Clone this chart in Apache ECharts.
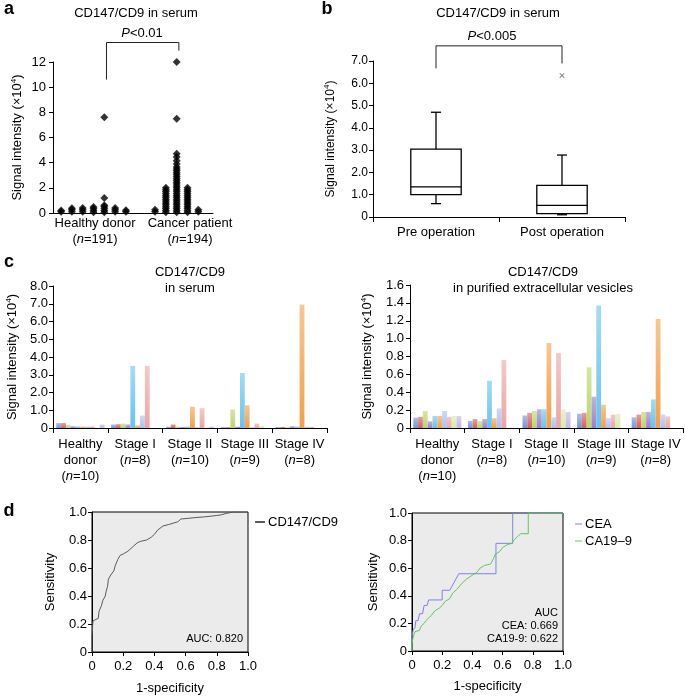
<!DOCTYPE html>
<html><head><meta charset="utf-8">
<script src="https://cdn.jsdelivr.net/npm/echarts@6/dist/echarts.min.js"></script>
<style>html,body{margin:0;padding:0;background:#fff}#c{width:685px;height:696px}</style>
</head><body><div id="c"></div>
<script>
// ---------------- DATA ----------------
// Panel a: dot plot columns (values x10^4)
const aGroupNames = ['Healthy donor', 'Cancer patient'];
const aGroupN = ['191', '194'];
const healthyColumns = [
  [0.1, 0.2],
  [0.1, 0.25, 0.38],
  [0.1, 0.25, 0.4],
  [0.05, 0.2, 0.35, 0.48],
  [0.05, 0.2, 0.35, 0.5, 0.62, 1.2, 7.6],
  [0.1, 0.25, 0.4],
  [0.1, 0.22]
];
const cancerColumns = [
  [0.1, 0.25],
  [0.05, 0.2, 0.35, 0.5, 0.65, 0.8, 0.95, 1.1, 1.25, 1.4, 1.55, 1.7, 1.85, 2.0],
  [0.05, 0.2, 0.35, 0.5, 0.65, 0.8, 0.95, 1.1, 1.25, 1.4, 1.55, 1.7, 1.85, 2.0, 2.15, 2.3, 2.45, 2.6, 2.75, 2.9, 3.05, 3.2, 3.35, 3.5, 3.65, 3.9, 4.15, 4.45, 4.7, 7.5, 12.0],
  [0.05, 0.2, 0.35, 0.5, 0.65, 0.8, 0.95, 1.1, 1.25, 1.4, 1.55, 1.7, 1.85, 2.0],
  [0.1, 0.25]
];
const aBracket = [10.6, 13.55, 12.9];   // left leg bottom, top, right leg bottom

// Panel b: box plot [low whisker, Q1, median, Q3, high whisker]
const bCategories = ['Pre operation', 'Post operation'];
const bStats = [
  [0.6, 1.0, 1.35, 3.05, 4.7],
  [0.1, 0.15, 0.52, 1.42, 2.78]
];
const bOutliers = [[1, 6.35]];
const bBracket = [6.67, 7.68, 6.89];

// Panel c: per-patient bars (slot order = sample number)
const cCategories = ['Healthy\ndonor', 'Stage I', 'Stage II', 'Stage III', 'Stage IV'];
const cN = ['10', '8', '10', '9', '8'];
const serumHealthy  = [0.28, 0.28, 0.17, 0.10, 0.09, 0.08, 0.09, 0.09, 0.02, 0.20];
const serumStageI   = [0.20, 0.22, 0.25, 0.20, 3.50, 0.15, 0.70, 3.50];
const serumStageII  = [0.07, 0.20, 0.08, 0.06, 0.08, 1.20, 0.05, 1.12, 0.04, 0.08];
const serumStageIII = [0.05, 0.05, 1.05, 0.08, 3.10, 1.28, 0.05, 0.25, 0.12];
const serumStageIV  = [0.05, 0.06, 0.05, 0.10, 0.08, 6.95, 0.08, 0.07];
const evHealthy  = [0.115, 0.125, 0.19, 0.075, 0.135, 0.135, 0.19, 0.125, 0.135, 0.135];
const evStageI   = [0.08, 0.10, 0.08, 0.10, 0.53, 0.11, 0.22, 0.76];
const evStageII  = [0.14, 0.17, 0.19, 0.21, 0.21, 0.95, 0.12, 0.84, 0.21, 0.18];
const evStageIII = [0.16, 0.17, 0.68, 0.35, 1.37, 0.26, 0.11, 0.15, 0.16];
const evStageIV  = [0.12, 0.15, 0.18, 0.18, 0.32, 1.22, 0.15, 0.13];

// Panel d: ROC curves [1-specificity, sensitivity]
const rocCD147 = [[0,0],[0,0.11],[0.006,0.22],[0.02,0.23],[0.04,0.24],[0.045,0.29],[0.06,0.33],[0.07,0.37],[0.085,0.40],[0.09,0.43],[0.1,0.47],[0.105,0.52],[0.12,0.55],[0.14,0.58],[0.15,0.62],[0.165,0.66],[0.18,0.69],[0.2,0.70],[0.23,0.72],[0.26,0.75],[0.29,0.78],[0.31,0.79],[0.35,0.80],[0.38,0.82],[0.4,0.84],[0.42,0.87],[0.455,0.90],[0.49,0.91],[0.52,0.92],[0.55,0.93],[0.57,0.95],[0.62,0.955],[0.66,0.96],[0.72,0.965],[0.8,0.975],[0.83,0.98],[0.86,0.99],[0.91,1.0],[1,1]];
const rocCEA = [[0,0],[0,0.1],[0.007,0.15],[0.02,0.17],[0.025,0.22],[0.04,0.22],[0.05,0.27],[0.07,0.27],[0.08,0.33],[0.1,0.33],[0.11,0.37],[0.2,0.37],[0.2,0.44],[0.25,0.44],[0.31,0.56],[0.556,0.56],[0.556,0.78],[0.667,0.78],[0.667,1.0],[1,1]];
const rocCA199 = [[0,0],[0,0.05],[0.007,0.1],[0.02,0.14],[0.05,0.15],[0.06,0.18],[0.08,0.2],[0.1,0.23],[0.13,0.26],[0.15,0.29],[0.18,0.31],[0.2,0.33],[0.22,0.36],[0.25,0.38],[0.27,0.42],[0.3,0.45],[0.33,0.49],[0.36,0.52],[0.4,0.55],[0.43,0.57],[0.45,0.6],[0.48,0.62],[0.52,0.63],[0.54,0.67],[0.55,0.7],[0.58,0.72],[0.6,0.75],[0.63,0.77],[0.66,0.78],[0.68,0.81],[0.7,0.83],[0.72,0.85],[0.77,0.85],[0.77,1.0],[1,1]];
const rocNames = ['CD147/CD9', 'CEA', 'CA19–9'];

// ---------------- STYLE ----------------
const FONT = '"Liberation Sans", Arial, sans-serif';
const barColors = ['#7a92d6', '#d0625e', '#bcd46e', '#9683c6', '#6cc2ea', '#f0a04e', '#adc0f2', '#eaa6a6', '#d9ebaa', '#c3b5e6'];
const rocColors = ['#5a5a5a', '#7e86d8', '#62c462'];
function lighten(hex, t) {
  const n = parseInt(hex.slice(1), 16);
  const r = (n >> 16) & 255, g = (n >> 8) & 255, b = n & 255;
  const m = c => Math.round(c + (255 - c) * t);
  return 'rgb(' + m(r) + ',' + m(g) + ',' + m(b) + ')';
}
const chart = echarts.init(document.getElementById('c'), null, {renderer: 'canvas'});

const black = '#000';
function valueAxisCommon(extra) {
  return Object.assign({
    type: 'value',
    axisLine: {show: true, onZero: false, lineStyle: {color: black, width: 1}},
    axisTick: {show: true, inside: false, length: 4, lineStyle: {color: black}},
    axisLabel: {color: black, fontSize: 13, fontFamily: FONT, margin: 6},
    splitLine: {show: false},
    nameTextStyle: {color: black, fontSize: 13, fontFamily: FONT},
    nameLocation: 'middle'
  }, extra);
}
const fmt1 = v => (v === 0 ? '0' : v.toFixed(1));
const yName = '{t|Signal intensity (×10}{s|4}{t|)}';
const yNameRich = {
  t: {fontSize: 13, fontFamily: FONT, color: black},
  s: {fontSize: 8, fontFamily: FONT, color: black, padding: [0, 0, 7, 0]}
};
const yNameRich12 = {
  t: {fontSize: 12, fontFamily: FONT, color: black},
  s: {fontSize: 8, fontFamily: FONT, color: black, padding: [0, 0, 7, 0]}
};

// ---------------- SERIES ----------------
const series = [];
function columnsToPoints(cols, offset) {
  const pts = [];
  cols.forEach((col, i) => col.forEach(v => pts.push([offset + i, v])));
  return pts;
}
series.push({type: 'scatter', xAxisIndex: 0, yAxisIndex: 0, symbol: 'diamond', symbolSize: 8,
  itemStyle: {color: black}, data: columnsToPoints(healthyColumns, 0), silent: true, clip: false});
series.push({type: 'scatter', xAxisIndex: 0, yAxisIndex: 0, symbol: 'diamond', symbolSize: 8,
  itemStyle: {color: black}, data: columnsToPoints(cancerColumns, 8.7), silent: true, clip: false});
// bracket a (between the main columns)
series.push({type: 'line', xAxisIndex: 0, yAxisIndex: 0, clip: false, symbol: 'none', silent: true,
  lineStyle: {color: '#222', width: 1},
  data: [[4.2, aBracket[0]], [4.2, aBracket[1]], [10.9, aBracket[1]], [10.9, aBracket[2]]]});

// box plot b
series.push({
  type: 'custom', xAxisIndex: 1, yAxisIndex: 1, silent: true,
  data: bStats.map((s, i) => [i].concat(s)),
  encode: {x: 0, y: [1, 2, 3, 4, 5]},
  renderItem: function (params, api) {
    const i = api.value(0);
    const lo = api.coord([i, api.value(1)]), q1 = api.coord([i, api.value(2)]),
      md = api.coord([i, api.value(3)]), q3 = api.coord([i, api.value(4)]), hi = api.coord([i, api.value(5)]);
    const band = api.size([1, 0])[0];
    const hw = band * 0.2, cw = band * 0.04, x = lo[0];
    const st = {stroke: black, lineWidth: 1.3, fill: null};
    return {type: 'group', children: [
      {type: 'line', shape: {x1: x, y1: q3[1], x2: x, y2: hi[1]}, style: st},
      {type: 'line', shape: {x1: x, y1: q1[1], x2: x, y2: lo[1]}, style: st},
      {type: 'line', shape: {x1: x - cw, y1: hi[1], x2: x + cw, y2: hi[1]}, style: st},
      {type: 'line', shape: {x1: x - cw, y1: lo[1], x2: x + cw, y2: lo[1]}, style: st},
      {type: 'rect', shape: {x: x - hw, y: q3[1], width: hw * 2, height: q1[1] - q3[1]},
        style: {fill: '#fff', stroke: black, lineWidth: 1.3}},
      {type: 'line', shape: {x1: x - hw, y1: md[1], x2: x + hw, y2: md[1]}, style: st}
    ]};
  }
});
series.push({type: 'scatter', xAxisIndex: 1, yAxisIndex: 1, silent: true,
  symbol: 'path://M0,1L1,0L5,4L9,0L10,1L6,5L10,9L9,10L5,6L1,10L0,9L4,5Z', symbolSize: 5,
  itemStyle: {color: '#333'}, data: bOutliers});
series.push({type: 'line', xAxisIndex: 1, yAxisIndex: 1, clip: false, symbol: 'none', silent: true,
  lineStyle: {color: '#222', width: 1},
  data: [[0, bBracket[0]], [0, bBracket[1]], [1, bBracket[1]], [1, bBracket[2]]]});

// bars c
const serumGroups = [serumHealthy, serumStageI, serumStageII, serumStageIII, serumStageIV];
const evGroups = [evHealthy, evStageI, evStageII, evStageIII, evStageIV];
function barSeries(groups, axis) {
  for (let k = 0; k < 10; k++) {
    const base = barColors[k];
    series.push({
      type: 'bar', xAxisIndex: axis, yAxisIndex: axis, silent: true,
      barGap: '0%', barCategoryGap: '12%',
      itemStyle: {color: new echarts.graphic.LinearGradient(0, 0, 0, 1, [
        {offset: 0, color: lighten(base, 0.4)}, {offset: 1, color: base}])},
      data: groups.map(g => (k < g.length ? g[k] : '-'))
    });
  }
}
barSeries(serumGroups, 2);
barSeries(evGroups, 3);

// ROC d
series.push({type: 'line', name: rocNames[0], xAxisIndex: 4, yAxisIndex: 4, symbol: 'none', silent: true,
  lineStyle: {color: rocColors[0], width: 1}, data: rocCD147});
series.push({type: 'line', name: rocNames[1], xAxisIndex: 5, yAxisIndex: 5, symbol: 'none', silent: true,
  lineStyle: {color: rocColors[1], width: 1}, data: rocCEA});
series.push({type: 'line', name: rocNames[2], xAxisIndex: 5, yAxisIndex: 5, symbol: 'none', silent: true,
  lineStyle: {color: rocColors[2], width: 1}, data: rocCA199});

// ---------------- TEXT ----------------
function txt(x, y, text, size, opt) {
  opt = opt || {};
  const rich = {
    t: {fontSize: size, fontFamily: FONT, fontWeight: opt.bold ? 'bold' : 'normal', fill: black, color: black},
    i: {fontSize: size, fontFamily: FONT, fontStyle: 'italic', fill: black, color: black}
  };
  return {type: 'text', x: x, y: y, silent: true,
    style: {text: text, rich: rich, font: (opt.bold ? 'bold ' : '') + size + 'px ' + FONT, fill: black,
      align: opt.align || 'center', verticalAlign: 'middle'}};
}
function seg(x1, y1, x2, y2, color, w) {
  return {type: 'line', silent: true, shape: {x1: x1, y1: y1, x2: x2, y2: y2}, style: {stroke: color, lineWidth: w}};
}
const graphics = [
  txt(9, 9, '{t|a}', 18, {bold: true}),
  txt(327, 9, '{t|b}', 18, {bold: true}),
  txt(9, 262, '{t|c}', 18, {bold: true}),
  txt(9, 511, '{t|d}', 18, {bold: true}),
  txt(136, 13, '{t|CD147/CD9 in serum}', 13),
  txt(142, 33, '{i|P}{t|<0.01}', 13),
  txt(498, 13, '{t|CD147/CD9 in serum}', 13),
  txt(492, 36, '{i|P}{t|<0.005}', 13),
  txt(95, 223, '{t|' + aGroupNames[0] + '}', 13),
  txt(95, 239, '{t|(}{i|n}{t|=' + aGroupN[0] + ')}', 13),
  txt(190, 223, '{t|' + aGroupNames[1] + '}', 13),
  txt(190, 239, '{t|(}{i|n}{t|=' + aGroupN[1] + ')}', 13),
  txt(190, 272, '{t|CD147/CD9}', 13),
  txt(190, 288, '{t|in serum}', 13),
  txt(543, 272, '{t|CD147/CD9}', 13),
  txt(543, 288, '{t|in purified extracellular vesicles}', 13),
  txt(243, 639, '{t|AUC: 0.820}', 11, {align: 'right'}),
  txt(558, 613, '{t|AUC}', 11, {align: 'right'}),
  txt(558, 626, '{t|CEA: 0.669}', 11, {align: 'right'}),
  txt(558, 639, '{t|CA19-9: 0.622}', 11, {align: 'right'}),
  // legends
  seg(255, 522, 265, 522, '#222', 1.5),
  txt(268, 522, '{t|' + rocNames[0] + '}', 13, {align: 'left'}),
  seg(575, 524, 582, 524, rocColors[1], 1),
  txt(585, 524, '{t|' + rocNames[1] + '}', 13, {align: 'left'}),
  seg(575, 541, 582, 541, rocColors[2], 1),
  txt(585, 541, '{t|' + rocNames[2] + '}', 13, {align: 'left'})
];

const catLabelRich = {
  t: {fontSize: 13, fontFamily: FONT, color: black, lineHeight: 16},
  i: {fontSize: 13, fontFamily: FONT, color: black, fontStyle: 'italic', lineHeight: 16}
};
const cLabelFmt = (v, idx) => v.split('\n').map(s => '{t|' + s + '}').join('\n') + '\n{t|(}{i|n}{t|=' + cN[idx] + ')}';

const option = {
  animation: false,
  backgroundColor: '#fff',
  textStyle: {fontFamily: FONT},
  grid: [
    {left: 53, top: 62, width: 160, height: 151},
    {left: 373, top: 61, width: 252, height: 156},
    {left: 53, top: 286, width: 274, height: 142},
    {left: 410, top: 285, width: 273, height: 143},
    {left: 92, top: 512, width: 156, height: 141, show: true, backgroundColor: '#ebebeb', borderColor: black, borderWidth: 1},
    {left: 412, top: 513, width: 151, height: 138, show: true, backgroundColor: '#ebebeb', borderColor: black, borderWidth: 1}
  ],
  xAxis: [
    {type: 'value', gridIndex: 0, min: -0.75, max: 14.06,
      axisLine: {show: true, onZero: false, lineStyle: {color: black}}, axisTick: {show: false},
      axisLabel: {show: false}, splitLine: {show: false}},
    {type: 'category', gridIndex: 1, data: bCategories,
      axisLine: {show: true, onZero: false, lineStyle: {color: black}},
      axisTick: {show: true, length: 5, lineStyle: {color: black}},
      axisLabel: {color: black, fontSize: 13, fontFamily: FONT, margin: 9}},
    {type: 'category', gridIndex: 2, data: cCategories,
      axisLine: {show: true, onZero: false, lineStyle: {color: black}},
      axisTick: {show: true, length: 5, lineStyle: {color: black}},
      axisLabel: {formatter: cLabelFmt, rich: catLabelRich, margin: 8, interval: 0}},
    {type: 'category', gridIndex: 3, data: cCategories,
      axisLine: {show: true, onZero: false, lineStyle: {color: black}},
      axisTick: {show: true, length: 5, lineStyle: {color: black}},
      axisLabel: {formatter: cLabelFmt, rich: catLabelRich, margin: 8, interval: 0}},
    valueAxisCommon({gridIndex: 4, min: 0, max: 1, interval: 0.2, name: '1-specificity', nameGap: 30,
      axisLabel: {color: black, fontSize: 13, fontFamily: FONT, margin: 8, formatter: fmt1}}),
    valueAxisCommon({gridIndex: 5, min: 0, max: 1, interval: 0.2, name: '1-specificity', nameGap: 29,
      axisLabel: {color: black, fontSize: 13, fontFamily: FONT, margin: 8, formatter: fmt1}})
  ],
  yAxis: [
    valueAxisCommon({gridIndex: 0, min: 0, max: 12, interval: 2, name: yName, nameGap: 28,
      nameTextStyle: {rich: yNameRich},
      axisLabel: {color: black, fontSize: 13, fontFamily: FONT, margin: 7}}),
    valueAxisCommon({gridIndex: 1, min: 0, max: 7, interval: 1, name: yName, nameGap: 35,
      nameTextStyle: {rich: yNameRich12},
      axisLabel: {color: black, fontSize: 12, fontFamily: FONT, margin: 5, formatter: fmt1}}),
    valueAxisCommon({gridIndex: 2, min: 0, max: 8, interval: 1, name: yName, nameGap: 33,
      nameTextStyle: {rich: yNameRich},
      axisLabel: {color: black, fontSize: 13, fontFamily: FONT, margin: 5, formatter: fmt1}}),
    valueAxisCommon({gridIndex: 3, min: 0, max: 1.6, interval: 0.2, name: yName, nameGap: 35,
      nameTextStyle: {rich: yNameRich},
      axisLabel: {color: black, fontSize: 13, fontFamily: FONT, margin: 6, formatter: fmt1}}),
    valueAxisCommon({gridIndex: 4, min: 0, max: 1, interval: 0.2, name: 'Sensitivity', nameGap: 35,
      axisLabel: {color: black, fontSize: 13, fontFamily: FONT, margin: 5, formatter: fmt1}}),
    valueAxisCommon({gridIndex: 5, min: 0, max: 1, interval: 0.2, name: 'Sensitivity', nameGap: 32,
      axisLabel: {color: black, fontSize: 13, fontFamily: FONT, margin: 5, formatter: fmt1}})
  ],
  series: series,
  graphic: graphics
};
chart.setOption(option);
</script>
</body></html>
